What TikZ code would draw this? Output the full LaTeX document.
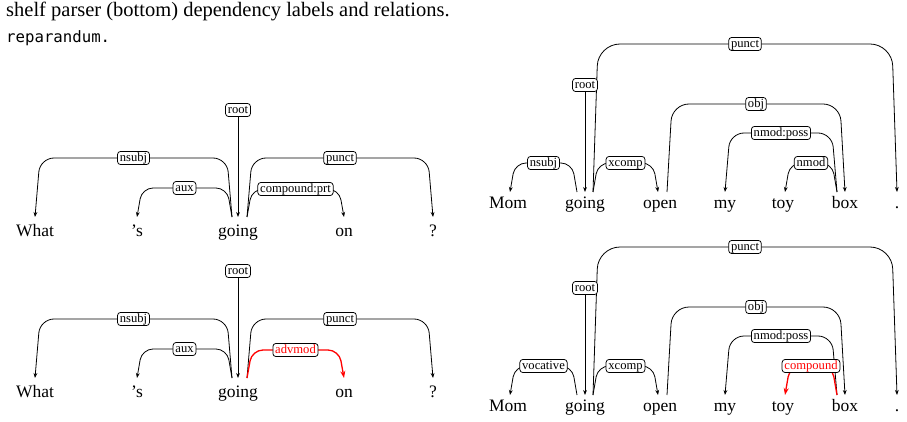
\documentclass[tikz,border=0pt]{standalone}
\usepackage{fontspec}
\setmainfont{Liberation Serif}
\newfontfamily\capmono{DejaVu Sans Mono}
\usetikzlibrary{arrows.meta,calc}
\tikzset{
 word/.style={anchor=base, inner sep=0pt, font=\fontsize{17.5}{20}\selectfont},
 captxt/.style={anchor=base west, inner sep=0pt, font=\fontsize{20.5}{24}\selectfont},
 capcode/.style={anchor=base west, inner sep=0pt, font=\capmono\fontsize{15.7}{18}\selectfont},
 lab/.style={draw=black, fill=white, rounded corners=3pt, inner xsep=2.3pt, inner ysep=0.8pt,
   text height=8.8pt, text depth=2.7pt, font=\fontsize{12.6}{14}\selectfont, line width=0.75pt, text=black},
 redlab/.style={lab, text=red},
 dep/.style={draw=black, line width=0.8pt, -{Stealth[length=5pt,width=3.8pt]}},
 depred/.style={draw=red, line width=1.3pt, -{Stealth[length=7pt,width=5pt]}},
}
% #1 edge style, #2 label style, #3 start, #4 target, #5 height, #6 slant, #7 label
\newcommand{\depedge}[7]{%
  \draw[#1] (#3) -- ($(#3)+(#6,-#5)$) -- node[#2] {#7} ($(#4)+(-#6,-#5)$) -- (#4);
}
\begin{document}
\begin{tikzpicture}[x=1pt,y=-1pt]
\useasboundingbox (0,0) rectangle (907,422);

% caption fragments
\node[captxt] (cap1) at (6,17) {shelf parser (bottom) dependency labels and relations.};
\node[capcode] (cap2) at (6,43) {reparandum.};

% ===== top left =====
\node[word] (a-what) at (35,236) {What};
\node[word] (a-s) at (137,236) {’s};
\node[word] (a-going) at (238,236) {going};
\node[word] (a-on) at (344,236) {on};
\node[word] (a-q) at (433,236) {?};
\coordinate (a-what-in) at (35,217);
\coordinate (a-s-in) at (137,217);
\coordinate (a-going-l) at (232,217);
\coordinate (a-going-in) at (238,217);
\coordinate (a-going-r) at (247,217);
\coordinate (a-on-in) at (344,217);
\coordinate (a-q-in) at (433,217);
\depedge{dep, rounded corners=14pt}{lab}{a-going-l}{a-what-in}{59}{-5}{nsubj}
\depedge{dep, rounded corners=11pt}{lab}{a-going-l}{a-s-in}{29}{-5}{aux}
\depedge{dep, rounded corners=14pt}{lab}{a-going-r}{a-q-in}{59}{5}{punct}
\depedge{dep, rounded corners=11pt}{lab}{a-going-r}{a-on-in}{28}{5}{compound:prt}
\node[lab] (a-root) at (238,110) {root};
\draw[dep] (a-root) -- (a-going-in);

% ===== bottom left =====
\node[word] (b-what) at (35,397) {What};
\node[word] (b-s) at (137,397) {’s};
\node[word] (b-going) at (238,397) {going};
\node[word] (b-on) at (344,397) {on};
\node[word] (b-q) at (433,397) {?};
\coordinate (b-what-in) at (35,378);
\coordinate (b-s-in) at (137,378);
\coordinate (b-going-l) at (232,378);
\coordinate (b-going-in) at (238,378);
\coordinate (b-going-r) at (247,378);
\coordinate (b-on-in) at (344,378);
\coordinate (b-q-in) at (433,378);
\depedge{dep, rounded corners=14pt}{lab}{b-going-l}{b-what-in}{59}{-5}{nsubj}
\depedge{dep, rounded corners=11pt}{lab}{b-going-l}{b-s-in}{29}{-5}{aux}
\depedge{dep, rounded corners=14pt}{lab}{b-going-r}{b-q-in}{59}{5}{punct}
\depedge{depred, rounded corners=11pt}{redlab}{b-going-r}{b-on-in}{28}{5}{advmod}
\node[lab] (b-root) at (238,271) {root};
\draw[dep] (b-root) -- (b-going-in);

% ===== top right =====
\node[word] (c-mom) at (508,208) {Mom};
\node[word] (c-going) at (585,208) {going};
\node[word] (c-open) at (660,208) {open};
\node[word] (c-my) at (725,208) {my};
\node[word] (c-toy) at (783,208) {toy};
\node[word] (c-box) at (845,208) {box};
\node[word] (c-dot) at (897,208) {.};
\coordinate (c-mom-in) at (510,192);
\coordinate (c-going-l) at (577,192);
\coordinate (c-going-in) at (585,192);
\coordinate (c-going-r) at (593,192);
\coordinate (c-open-in) at (658,192);
\coordinate (c-open-r) at (667,192);
\coordinate (c-my-in) at (725,192);
\coordinate (c-toy-in) at (785,192);
\coordinate (c-box-l) at (837,192);
\coordinate (c-box-in) at (845,192);
\coordinate (c-dot-in) at (897,192);
\depedge{dep, rounded corners=22pt}{lab}{c-going-r}{c-dot-in}{148}{5}{punct}
\depedge{dep, rounded corners=11pt}{lab}{c-going-l}{c-mom-in}{29}{-5}{nsubj}
\depedge{dep, rounded corners=11pt}{lab}{c-going-r}{c-open-in}{29}{5}{xcomp}
\depedge{dep, rounded corners=17pt}{lab}{c-open-r}{c-box-in}{88}{5}{obj}
\depedge{dep, rounded corners=14pt}{lab}{c-box-l}{c-my-in}{59}{-5}{nmod:poss}
\depedge{dep, rounded corners=11pt}{lab}{c-box-l}{c-toy-in}{29}{-5}{nmod}
\node[lab] (c-root) at (585,85) {root};
\draw[dep] (c-root) -- (c-going-in);

% ===== bottom right =====
\node[word] (d-mom) at (508,411) {Mom};
\node[word] (d-going) at (585,411) {going};
\node[word] (d-open) at (660,411) {open};
\node[word] (d-my) at (725,411) {my};
\node[word] (d-toy) at (783,411) {toy};
\node[word] (d-box) at (845,411) {box};
\node[word] (d-dot) at (897,411) {.};
\coordinate (d-mom-in) at (510,395);
\coordinate (d-going-l) at (577,395);
\coordinate (d-going-in) at (585,395);
\coordinate (d-going-r) at (593,395);
\coordinate (d-open-in) at (658,395);
\coordinate (d-open-r) at (667,395);
\coordinate (d-my-in) at (725,395);
\coordinate (d-toy-in) at (785,395);
\coordinate (d-box-l) at (837,395);
\coordinate (d-box-in) at (845,395);
\coordinate (d-dot-in) at (897,395);
\depedge{dep, rounded corners=22pt}{lab}{d-going-r}{d-dot-in}{148}{5}{punct}
\depedge{dep, rounded corners=11pt}{lab}{d-going-l}{d-mom-in}{29}{-5}{vocative}
\depedge{dep, rounded corners=11pt}{lab}{d-going-r}{d-open-in}{29}{5}{xcomp}
\depedge{dep, rounded corners=17pt}{lab}{d-open-r}{d-box-in}{88}{5}{obj}
\depedge{dep, rounded corners=14pt}{lab}{d-box-l}{d-my-in}{59}{-5}{nmod:poss}
\depedge{depred, rounded corners=11pt}{redlab}{d-box-l}{d-toy-in}{29}{-5}{compound}
\node[lab] (d-root) at (585,288) {root};
\draw[dep] (d-root) -- (d-going-in);
\end{tikzpicture}
\end{document}
